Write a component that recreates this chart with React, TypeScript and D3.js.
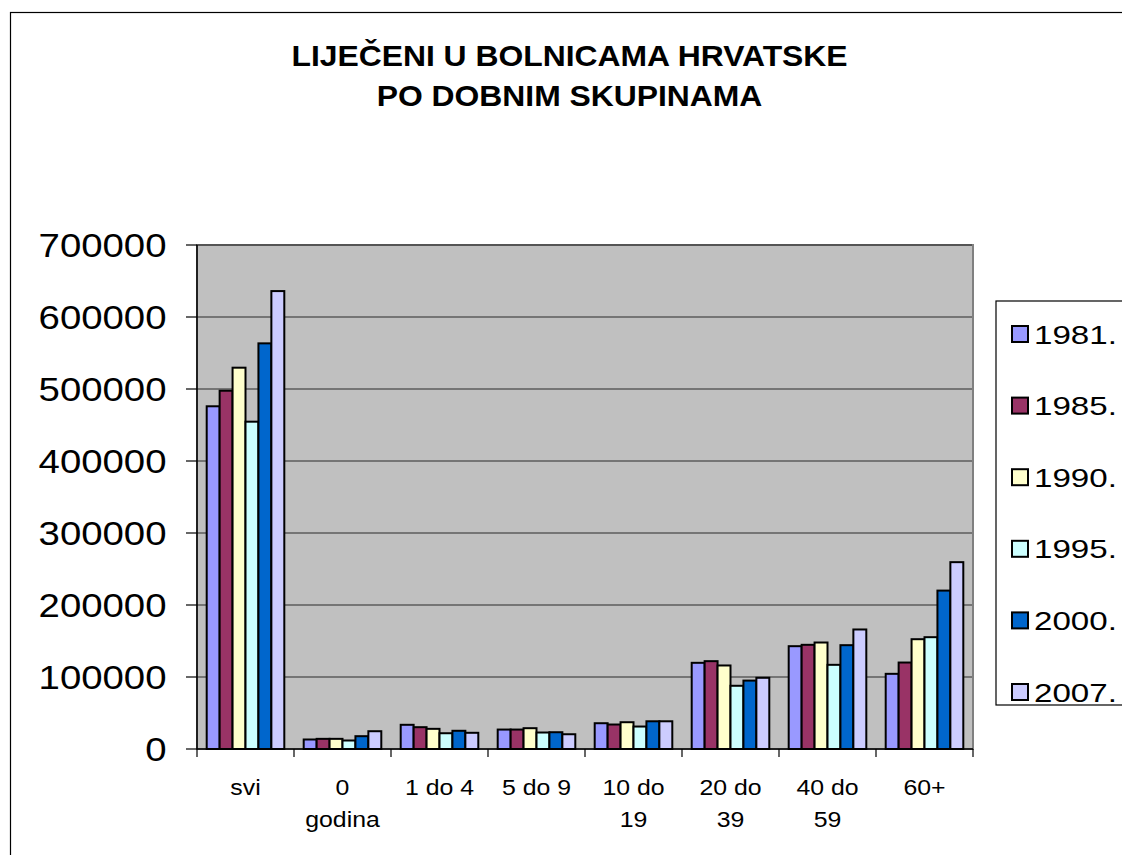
import React from "react";
import * as d3 from "d3";

const titleLines = ["LIJEČENI U BOLNICAMA HRVATSKE", "PO DOBNIM SKUPINAMA"];
const categories = ["svi", "0 godina", "1 do 4", "5 do 9", "10 do 19", "20 do 39", "40 do 59", "60+"];
const categoryLines = [["svi"], ["0", "godina"], ["1 do 4"], ["5 do 9"], ["10 do", "19"], ["20 do", "39"], ["40 do", "59"], ["60+"]];
const seriesNames = ["1981.", "1985.", "1990.", "1995.", "2000.", "2007."];
const seriesColors = ["#9999FF", "#993366", "#FFFFCC", "#CCFFFF", "#0066CC", "#CCCCFF"];
const v1981 = [476000, 13200, 33600, 27000, 35800, 119700, 142800, 104400];
const v1985 = [497600, 14100, 30300, 27000, 34000, 122000, 144700, 120100];
const v1990 = [529600, 14100, 28000, 28900, 37200, 116000, 147900, 152500];
const v1995 = [454600, 11800, 21900, 22900, 31200, 87800, 116900, 155300];
const v2000 = [563400, 17800, 25300, 23300, 38500, 95000, 144200, 220000];
const v2007 = [636000, 24700, 22500, 20500, 38500, 98900, 166000, 259500];
const seriesValues = [v1981, v1985, v1990, v1995, v2000, v2007];
const yTicks = [0, 100000, 200000, 300000, 400000, 500000, 600000, 700000];

const W = 1122;
const H = 855;
const plot = { left: 197, right: 973, top: 245, bottom: 749 };
const FONT = "'Liberation Sans', Arial, sans-serif";

export default function App() {
  const x = d3.scaleBand<string>().domain(categories).range([plot.left, plot.right]).paddingInner(0).paddingOuter(0);
  const bw = x.bandwidth();
  const barW = bw / (seriesNames.length + 1.5);
  const xs = d3
    .scaleBand<string>()
    .domain(seriesNames)
    .range([barW * 0.75, bw - barW * 0.75])
    .padding(0);
  const y = d3.scaleLinear().domain([0, 700000]).range([plot.bottom, plot.top]);

  const legendTop = 334;
  const legendStep = 71.6;

  return (
    <svg
      width={W}
      height={H}
      style={{ position: "absolute", left: 0, top: 0, background: "#fff" }}
      fontFamily={FONT}
    >
      <rect x={0} y={0} width={W} height={H} fill="#fff" />
      {/* outer chart frame */}
      <rect x={10.5} y={12.5} width={W + 20} height={H + 20} fill="#fff" stroke="#000" strokeWidth={1.2} />

      {/* title */}
      {titleLines.map((t, i) => (
        <g key={t} transform={`translate(569.5,${66 + i * 40}) scale(1.08,1)`}>
          <text textAnchor="middle" fontSize={29.5} fontWeight="bold" fill="#000">
            {t}
          </text>
        </g>
      ))}

      {/* plot area */}
      <rect
        x={plot.left}
        y={plot.top}
        width={plot.right - plot.left}
        height={plot.bottom - plot.top}
        fill="#C0C0C0"
        stroke="#808080"
        strokeWidth={2}
      />
      {yTicks.slice(1).map((t) => (
        <line key={t} x1={plot.left} x2={plot.right - 1} y1={y(t)} y2={y(t)} stroke="#2a2a2a" strokeWidth={1.2} />
      ))}

      {/* bars */}
      {seriesValues.map((vals, si) =>
        vals.map((v, ci) => (
          <rect
            key={`${si}-${ci}`}
            x={(x(categories[ci]) || 0) + (xs(seriesNames[si]) || 0)}
            y={y(v)}
            width={xs.bandwidth()}
            height={y(0) - y(v)}
            fill={seriesColors[si]}
            stroke="#000"
            strokeWidth={2}
          />
        ))
      )}

      {/* axes */}
      <line x1={plot.left} x2={plot.left} y1={plot.top} y2={plot.bottom} stroke="#000" strokeWidth={1.5} />
      <line x1={plot.left} x2={plot.right} y1={plot.bottom} y2={plot.bottom} stroke="#000" strokeWidth={1.5} />
      {yTicks.map((t) => (
        <g key={t}>
          <line x1={plot.left - 11} x2={plot.left} y1={y(t)} y2={y(t)} stroke="#000" strokeWidth={1.2} />
          <g transform={`translate(166.5,${y(t) + 11.6}) scale(1.18,1)`}>
            <text textAnchor="end" fontSize={32.5} fill="#000">
              {t}
            </text>
          </g>
        </g>
      ))}
      {categories.map((c) => (
        <line
          key={c}
          x1={x(c) || 0}
          x2={x(c) || 0}
          y1={plot.bottom}
          y2={plot.bottom + 8}
          stroke="#000"
          strokeWidth={1.2}
        />
      ))}
      <line x1={plot.right} x2={plot.right} y1={plot.bottom} y2={plot.bottom + 8} stroke="#000" strokeWidth={1.2} />
      {categories.map((c, i) =>
        categoryLines[i].map((ln, li) => (
          <g key={`${c}-${li}`} transform={`translate(${(x(c) || 0) + bw / 2},${795 + li * 31.5}) scale(1.13,1)`}>
            <text textAnchor="middle" fontSize={22} fill="#000">
              {ln}
            </text>
          </g>
        ))
      )}

      {/* legend */}
      <rect x={996} y={301} width={200} height={404} fill="#fff" stroke="#000" strokeWidth={1.2} />
      {seriesNames.map((s, i) => {
        const cy = legendTop + i * legendStep;
        return (
          <g key={s}>
            <rect x={1012} y={cy - 8} width={16} height={16} fill={seriesColors[i]} stroke="#000" strokeWidth={2} />
            <g transform={`translate(1034,${cy + 9.5}) scale(1.25,1)`}>
              <text fontSize={26.5} fill="#000">
                {s}
              </text>
            </g>
          </g>
        );
      })}
    </svg>
  );
}
